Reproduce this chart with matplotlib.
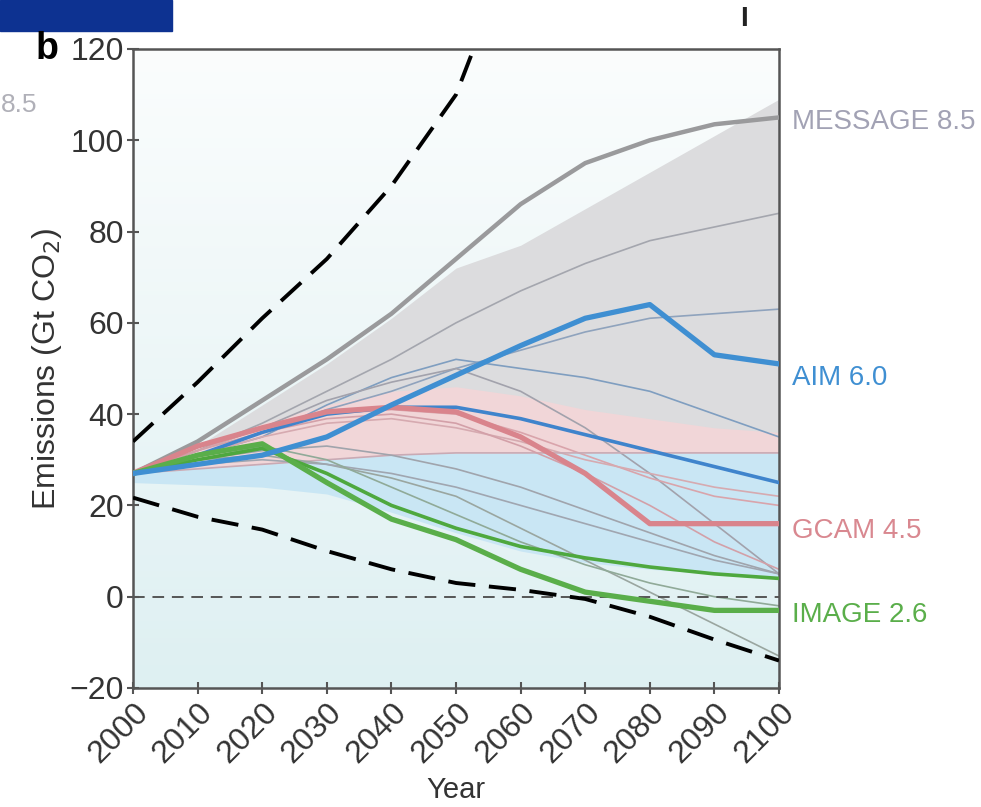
import matplotlib
matplotlib.use('Agg')
import matplotlib.pyplot as plt
import numpy as np

plt.rcParams['font.family'] = ['Liberation Sans', 'DejaVu Sans']

years = [2000, 2010, 2020, 2030, 2040, 2050, 2060, 2070, 2080, 2090, 2100]

# shaded scenario ranges
gray_hi = [27, 33, 42, 51, 61, 72, 77, 85, 93, 101, 109]
pink_hi = [28, 33, 38, 42, 45, 46, 44, 41, 39, 37, 36]
pink_lo = [27, 28, 29, 30, 31, 31.5, 31.5, 31.5, 31.5, 31.5, 31.5]
blue_lo = [25, 24.5, 24, 22.5, 18.5, 14, 10, 7.5, 6, 5, 4]

# bounding dashed curves
upper_years = [2000, 2010, 2020, 2030, 2040, 2050, 2053]
upper_dash = [34, 47, 61, 74, 90, 110, 121]
lower_dash = [21.7, 17.5, 14.7, 10, 6, 3, 1.5, -0.5, -4.4, -9.4, -14]

# highlighted model runs
message85 = [27, 34, 43, 52, 62, 74, 86, 95, 100, 103.5, 105]
aim60 = [27, 29, 31, 35, 42, 48.5, 55, 61, 64, 53, 51]
aim_b = [27, 31, 36, 40, 41.5, 41.5, 39, 35.5, 32, 28.5, 25]
gcam45 = [27, 33, 37, 40.5, 41.5, 40.5, 35, 27, 16, 16, 16]
image26 = [27, 31, 33.5, 25, 17, 12.5, 6, 1, -1, -3, -3]
image_b = [27, 30, 32.5, 27, 20, 15, 11, 8.5, 6.5, 5, 4]

# thin background runs
thin_runs = [
    ([27, 32, 38, 45, 52, 60, 67, 73, 78, 81, 84], '#a4a6ae'),
    ([27, 31, 36, 41, 45, 50, 54, 58, 61, 62, 63], '#8fa3bd'),
    ([27, 31, 35, 42, 48, 52, 50, 48, 45, 40, 35], '#7f9ec0'),
    ([27, 32, 37, 43, 47, 50, 45, 37, 27, 16, 5], '#a2a2ac'),
    ([27, 32, 37, 40, 41, 40, 36, 31, 26, 22, 20], '#d9a4ab'),
    ([27, 31, 35, 38, 39, 37, 34, 30, 27, 24, 22], '#d6aab0'),
    ([27, 28, 29, 30, 31, 31.5, 31.5, 31.5, 31.5, 31.5, 31.5], '#c9aab4'),
    ([27, 30, 32, 33, 31, 28, 24, 19, 14, 9, 5], '#a0a4ac'),
    ([27, 30, 31, 29, 26, 22, 15, 8, 1, -6, -13], '#9aa6a0'),
    ([27, 32, 36, 39, 40, 38, 33, 27, 20, 12, 6], '#d3a0a8'),
    ([27, 29, 30, 29, 27, 24, 20, 16, 12, 8, 5], '#a0a6b0'),
    ([27, 30, 33, 30, 24, 18, 12, 7, 3, 0, -2], '#90aa98'),
]

labels = ['MESSAGE 8.5', 'AIM 6.0', 'GCAM 4.5', 'IMAGE 2.6']
label_y = [104, 48, 14.5, -4]
label_colors = ['#a2a2b4', '#3f8fd2', '#d98890', '#5aae4a']

fig = plt.figure(figsize=(9.81, 8.07), dpi=100)
ax = fig.add_axes([0.1356, 0.1475, 0.6585, 0.7918])

# soft vertical background gradient
grad = np.linspace(0, 1, 256).reshape(-1, 1)
bg = np.zeros((256, 1, 3))
top_c = np.array([251, 253, 253]) / 255
bot_c = np.array([222, 240, 242]) / 255
bg[:, 0, :] = top_c * (1 - grad) + bot_c * grad
ax.imshow(bg, extent=(2000, 2100, -20, 120), aspect='auto', zorder=0, origin='upper')

ax.fill_between(years, pink_lo, gray_hi, color='#dcdcde', lw=0, zorder=1)
ax.fill_between(years, pink_lo, pink_hi, color='#f1d6d8', lw=0, zorder=1.1)
ax.fill_between(years, blue_lo, pink_lo, color='#c9e6f4', lw=0, zorder=1.2)

for vals, col in thin_runs:
    ax.plot(years, vals, color=col, lw=1.2, zorder=2)

ax.axhline(0, color='#555555', lw=1.4, dashes=(6, 4), zorder=2.5)

ax.plot(years, message85, color='#9a9a9c', lw=3.2, zorder=3)
ax.plot(years, aim_b, color='#3f84cc', lw=2.6, zorder=3)
ax.plot(years, gcam45, color='#d9848c', lw=3.8, zorder=3)
ax.plot(years, aim60, color='#3f8fd2', lw=3.8, zorder=3.2)
ax.plot(years, image_b, color='#4ea83e', lw=2.6, zorder=3)
ax.plot(years, image26, color='#5aae4a', lw=3.8, zorder=3.1)

ax.plot(upper_years, upper_dash, color='black', lw=2.8, dashes=(7, 3.5), zorder=4)
ax.plot(years, lower_dash, color='black', lw=2.8, dashes=(7, 3.5), zorder=4)

ax.set_xlim(2000, 2100)
ax.set_ylim(-20, 120)
ax.set_xticks(years)
ax.set_yticks(range(-20, 121, 20))
ax.set_yticklabels(['\u221220'] + [str(v) for v in range(0, 121, 20)])
ax.tick_params(direction='inout', length=9, width=1.5, color='#555555',
               labelsize=23, labelcolor='#333333', pad=2)
for lab in ax.get_xticklabels():
    lab.set_rotation(45)
    lab.set_ha('right')
    lab.set_rotation_mode('anchor')
for sp in ax.spines.values():
    sp.set_color('#555555')
    sp.set_linewidth(1.8)

ax.set_ylabel(r'Emissions (Gt CO$_2$)', fontsize=23, color='#333333', labelpad=4)
ax.set_xlabel('Year', fontsize=21, color='#333333', labelpad=5)

for name, yv, col in zip(labels, label_y, label_colors):
    ax.text(2102, yv, name, color=col, fontsize=20, va='center', ha='left',
            clip_on=False)

# panel decorations
fig.patches.append(plt.Rectangle((0, 1 - 31 / 807), 172 / 981, 31 / 807,
                                 transform=fig.transFigure, color='#0d3291'))
fig.text(36 / 981, 1 - 49 / 807, 'b', fontsize=27, fontweight='bold', va='center')
fig.text(0.001, 1 - 105 / 807, '8.5', fontsize=19, color='#b0b0b8', va='center')
fig.text(744 / 981, 1 - 19 / 807, 'I', fontsize=20, fontweight='bold',
         color='#222222', va='center', ha='center')

fig.savefig('out.png', dpi=100)
